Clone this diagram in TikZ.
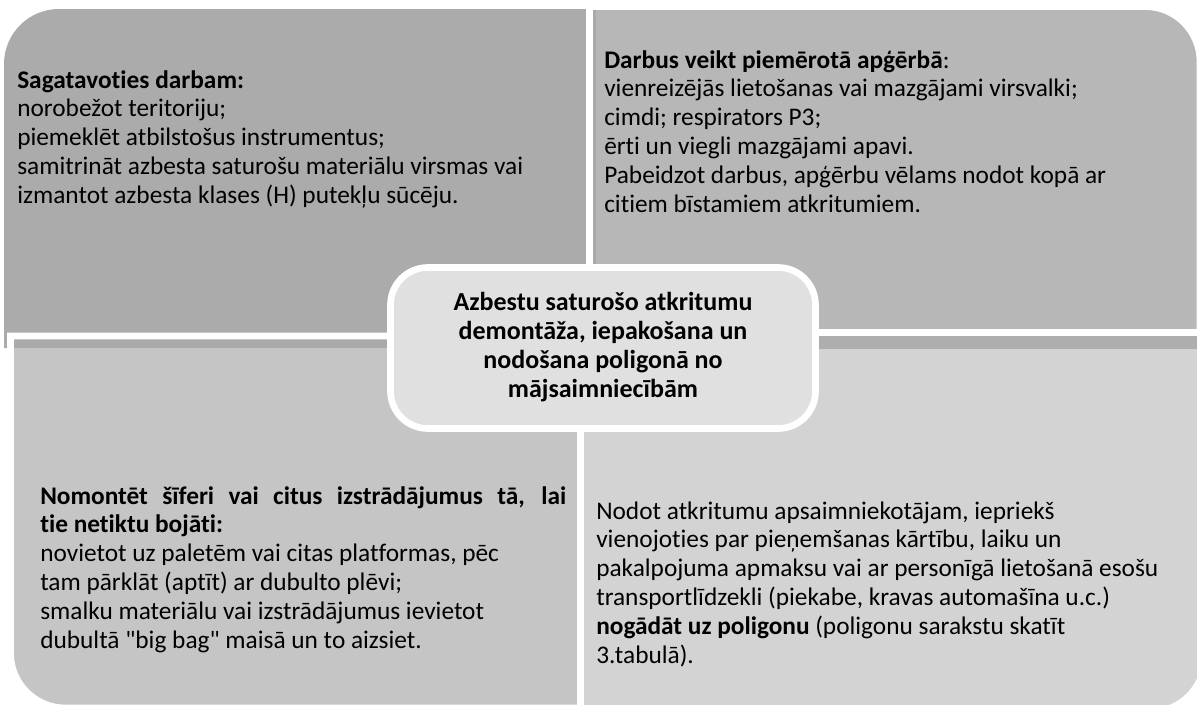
\documentclass[tikz,border=0pt]{standalone}
\usepackage{fontspec}
\setmainfont{Carlito}[Ligatures={TeXOff,NoCommon}]
\definecolor{cTL}{HTML}{ABABAB}
\definecolor{cTR}{HTML}{B7B7B7}
\definecolor{cBL}{HTML}{C5C5C5}
\definecolor{cBR}{HTML}{D3D3D3}
\definecolor{cHub}{HTML}{E0E0E0}
\definecolor{cBandA}{HTML}{AAAAAA}
\definecolor{cBandB}{HTML}{AEAEAE}
\tikzset{
  quadline/.style={draw=white, line width=5},
  txt/.style={anchor=base west, inner sep=0pt, font=\fontsize{19pt}{21.6pt}\selectfont},
  hubtxt/.style={inner sep=0pt, align=center, font=\fontsize{19.5pt}{21.6pt}\selectfont\bfseries}
}
\begin{document}
\begin{tikzpicture}[x=0.75pt,y=-0.75pt]
\useasboundingbox (0,0) rectangle (1197,704);
\clip (0,0) rectangle (1197,704);
% top-left quadrant
\fill[cTL] (596,348) -- (4,348) -- (4,64) arc[start angle=180,end angle=270,radius=55] -- (596,9) -- cycle;
% top-right quadrant
\fill[cTR] (589.5,349) -- (589.5,6.5) -- (1145,6.5) arc[start angle=270,end angle=360,radius=55] -- (1200,349) -- cycle;
\fill[cBandA] (592,9) rectangle (596,349);
\draw[quadline] (589.5,349) -- (589.5,6.5) -- (1145,6.5) arc[start angle=270,end angle=360,radius=55] -- (1200,349) -- cycle;
% bottom-left quadrant
\fill[cBL] (580.5,336) -- (10.5,336) -- (10.5,653) arc[start angle=180,end angle=90,radius=55] -- (580.5,708) -- cycle;
\fill[cBandA] (13,338.5) rectangle (578,348);
\draw[quadline] (580.5,336) -- (10.5,336) -- (10.5,653) arc[start angle=180,end angle=90,radius=55] -- (580.5,708) -- cycle;
% bottom-right quadrant
\fill[cBR] (580.5,332.5) -- (580.5,712) -- (1150,712) arc[start angle=90,end angle=0,radius=55] -- (1205,332.5) -- cycle;
\fill[cBandB] (583,335) rectangle (1205,349);
\draw[quadline] (580.5,332.5) -- (580.5,712) -- (1150,712) arc[start angle=90,end angle=0,radius=55] -- (1205,332.5) -- cycle;
% central box
\draw[quadline, fill=cHub, rounded corners=28] (390.5,267.5) rectangle (815.5,428.5);

\node[txt] (tl) at (17,88) {\parbox[t]{440pt}{\raggedright
\textbf{Sagatavoties darbam:}\\
norobežot teritoriju;\\
piemeklēt atbilstošus instrumentus;\\
samitrināt azbesta saturošu materiālu virsmas vai\\
izmantot azbesta klases (H) putekļu sūcēju.}};

\node[txt] (tr) at (604,68) {\parbox[t]{440pt}{\raggedright
\textbf{Darbus veikt piemērotā apģērbā}:\\
vienreizējās lietošanas vai mazgājami virsvalki;\\
cimdi; respirators P3;\\
ērti un viegli mazgājami apavi.\\
Pabeidzot darbus, apģērbu vēlams nodot kopā ar\\
citiem bīstamiem atkritumiem.}};

\node[hubtxt] (hub) at (603,347) {Azbestu saturošo atkritumu\\demontāža, iepakošana un\\nodošana poligonā no\\mājsaimniecībām};

\node[txt] (bl) at (40,504) {\parbox[t]{420pt}{\raggedright
\textbf{\makebox[394.5pt][s]{Nomontēt šīferi vai citus izstrādājumus tā, lai}}\\
\textbf{tie netiktu bojāti:}\\
novietot uz paletēm vai citas platformas, pēc\\
tam pārklāt (aptīt) ar dubulto plēvi;\\
smalku materiālu vai izstrādājumus ievietot\\
dubultā "big bag" maisā un to aizsiet.}};

\node[txt] (br) at (596,519) {\parbox[t]{460pt}{\raggedright
Nodot atkritumu apsaimniekotājam, iepriekš\\
vienojoties par pieņemšanas kārtību, laiku un\\
pakalpojuma apmaksu vai ar personīgā lietošanā esošu\\
transportlīdzekli (piekabe, kravas automašīna u.c.)\\
\textbf{nogādāt uz poligonu} (poligonu sarakstu skatīt\\
3.tabulā).}};
\end{tikzpicture}
\end{document}
